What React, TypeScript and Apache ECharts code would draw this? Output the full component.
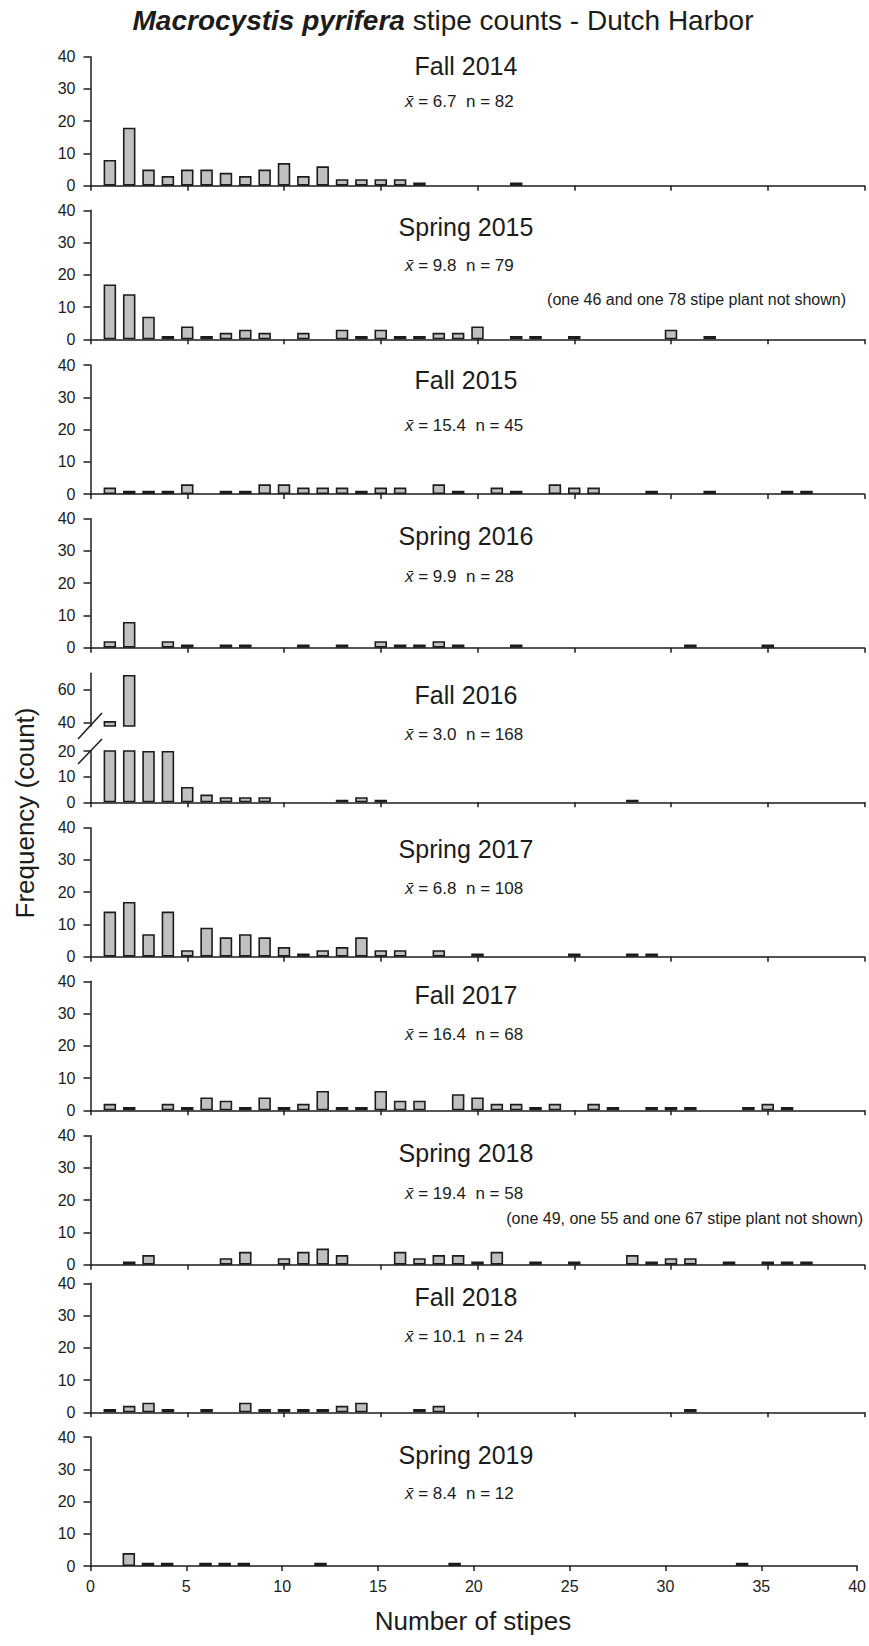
import React, { useEffect, useRef } from "react";
import * as echarts from "echarts";

// Frequency of plants by stipe count; entry i holds the plants with i + 1 stipes.
const fall2014 = [8, 18, 5, 3, 5, 5, 4, 3, 5, 7, 3, 6, 2, 2, 2, 2, 1, 0, 0, 0, 0, 1];
const spring2015 = [17, 14, 7, 1, 4, 1, 2, 3, 2, 0, 2, 0, 3, 1, 3, 1, 1, 2, 2, 4, 0, 1, 1, 0, 1, 0, 0, 0, 0, 3, 0, 1];
const fall2015 = [2, 1, 1, 1, 3, 0, 1, 1, 3, 3, 2, 2, 2, 1, 2, 2, 0, 3, 1, 0, 2, 1, 0, 3, 2, 2, 0, 0, 1, 0, 0, 1, 0, 0, 0, 1, 1];
const spring2016 = [2, 8, 0, 2, 1, 0, 1, 1, 0, 0, 1, 0, 1, 0, 2, 1, 1, 2, 1, 0, 0, 1, 0, 0, 0, 0, 0, 0, 0, 0, 1, 0, 0, 0, 1];
const fall2016 = [41, 69, 20, 20, 6, 3, 2, 2, 2, 0, 0, 0, 1, 2, 1, 0, 0, 0, 0, 0, 0, 0, 0, 0, 0, 0, 0, 1];
const spring2017 = [14, 17, 7, 14, 2, 9, 6, 7, 6, 3, 1, 2, 3, 6, 2, 2, 0, 2, 0, 1, 0, 0, 0, 0, 1, 0, 0, 1, 1];
const fall2017 = [2, 1, 0, 2, 1, 4, 3, 1, 4, 1, 2, 6, 1, 1, 6, 3, 3, 0, 5, 4, 2, 2, 1, 2, 0, 2, 1, 0, 1, 1, 1, 0, 0, 1, 2, 1];
const spring2018 = [0, 1, 3, 0, 0, 0, 2, 4, 0, 2, 4, 5, 3, 0, 0, 4, 2, 3, 3, 1, 4, 0, 1, 0, 1, 0, 0, 3, 1, 2, 2, 0, 1, 0, 1, 1, 1];
const fall2018 = [1, 2, 3, 1, 0, 1, 0, 3, 1, 1, 1, 1, 2, 3, 0, 0, 1, 2, 0, 0, 0, 0, 0, 0, 0, 0, 0, 0, 0, 0, 1];
const spring2019 = [0, 4, 1, 1, 0, 1, 1, 1, 0, 0, 0, 1, 0, 0, 0, 0, 0, 0, 1, 0, 0, 0, 0, 0, 0, 0, 0, 0, 0, 0, 0, 0, 0, 1];

const seasonNames = [
  "Fall 2014", "Spring 2015", "Fall 2015", "Spring 2016", "Fall 2016",
  "Spring 2017", "Fall 2017", "Spring 2018", "Fall 2018", "Spring 2019",
];
const seasonCounts = [
  fall2014, spring2015, fall2015, spring2016, fall2016,
  spring2017, fall2017, spring2018, fall2018, spring2019,
];
const meanStipes = ["6.7", "9.8", "15.4", "9.9", "3.0", "6.8", "16.4", "19.4", "10.1", "8.4"];
const sampleSizes = [82, 79, 45, 28, 168, 108, 68, 58, 24, 12];
const notShownNotes: (string | null)[] = [
  null,
  "(one 46 and one 78 stipe plant not shown)",
  null, null, null, null, null,
  "(one 49, one 55 and one 67 stipe plant not shown)",
  null, null,
];

const yTicks = [0, 10, 20, 30, 40];
const xTicks = [0, 5, 10, 15, 20, 25, 30, 35, 40];
const brokenLowerTicks = [0, 10, 20];
const brokenUpperTicks = [40, 60];

// Page layout (pixels)
const FONT = "'Liberation Sans', Arial, Helvetica, sans-serif";
const PLOT_LEFT = 90.5;
const PLOT_WIDTH = 774;
const PANEL_H = 129;
const BROKEN_PANEL = 4;
const zeroLine = [185.7, 339.3, 494, 647.7, 802.3, 956.7, 1110.3, 1264.7, 1412.3, 1566];
const titleY = [66, 227, 380, 536, 695, 849, 995, 1153, 1297, 1455];
const statY = [101, 265, 425, 576, 734, 888, 1034, 1193, 1336, 1493];
const noteY = [0, 299, 0, 0, 0, 0, 0, 1218, 0, 0];
const noteRight = [0, 846, 0, 0, 0, 0, 0, 863, 0, 0];

const INK = "#1c1c1c";
const BAR_FILL = "#c0c0c0";
const TICK_FONT = 16;

function barPairs(counts: number[]) {
  const out: [number, number][] = [];
  counts.forEach((c, i) => {
    if (c > 0) out.push([i + 1, c]);
  });
  return out;
}

function buildOption() {
  const grids: any[] = [];
  const xAxes: any[] = [];
  const yAxes: any[] = [];
  const series: any[] = [];
  const graphics: any[] = [];

  const lineStyle = { color: INK, width: 1.5 };

  const addPanel = (
    top: number,
    height: number,
    yAxis: any,
    counts: number[],
    showX: boolean,
    showXLabels: boolean
  ) => {
    const idx = grids.length;
    grids.push({ left: PLOT_LEFT, top, width: PLOT_WIDTH, height, containLabel: false });
    xAxes.push({
      type: "value",
      gridIndex: idx,
      min: 0,
      max: 40,
      interval: 5,
      show: showX,
      axisLine: { show: true, onZero: false, lineStyle },
      axisTick: { show: true, length: 5, inside: false, lineStyle },
      axisLabel: {
        show: showXLabels,
        customValues: xTicks,
        margin: 12,
        fontSize: TICK_FONT,
        color: INK,
        fontFamily: FONT,
      },
      splitLine: { show: false },
    });
    yAxes.push({
      type: "value",
      gridIndex: idx,
      axisLine: { show: true, lineStyle },
      splitLine: { show: false },
      ...yAxis,
      axisTick: { show: true, length: 7, lineStyle, ...(yAxis.axisTick || {}) },
      axisLabel: {
        margin: 15,
        fontSize: TICK_FONT,
        color: INK,
        fontFamily: FONT,
        ...(yAxis.axisLabel || {}),
      },
    });
    series.push({
      type: "bar",
      xAxisIndex: idx,
      yAxisIndex: idx,
      data: barPairs(counts),
      barWidth: 12.5,
      clip: true,
      silent: true,
      itemStyle: { color: BAR_FILL, borderColor: INK, borderWidth: 1.6 },
    });
  };

  seasonCounts.forEach((counts, i) => {
    const last = i === seasonCounts.length - 1;
    if (i === BROKEN_PANEL) {
      // Broken y-axis: 0–20 below the break, 38–70 above it.
      const lowerTop = 751;
      addPanel(
        lowerTop,
        zeroLine[i] - lowerTop,
        {
          min: 0,
          max: 20,
          interval: 10,
          axisLabel: { customValues: brokenLowerTicks },
          axisTick: { customValues: brokenLowerTicks },
        },
        counts,
        true,
        false
      );
      addPanel(
        673.3,
        52.7,
        {
          min: 38,
          max: 70,
          axisLabel: { customValues: brokenUpperTicks },
          axisTick: { customValues: brokenUpperTicks },
        },
        counts,
        false,
        false
      );
      graphics.push(
        {
          type: "line",
          shape: { x1: 78, y1: 739, x2: 102, y2: 713 },
          style: { stroke: INK, lineWidth: 1.5 },
        },
        {
          type: "line",
          shape: { x1: 78, y1: 764, x2: 102, y2: 739 },
          style: { stroke: INK, lineWidth: 1.5 },
        }
      );
    } else {
      addPanel(
        zeroLine[i] - PANEL_H,
        PANEL_H,
        {
          min: 0,
          max: 40,
          interval: 10,
          axisLabel: { customValues: yTicks },
          axisTick: { customValues: yTicks },
        },
        counts,
        true,
        last
      );
    }

    graphics.push({
      type: "text",
      x: 466,
      y: titleY[i],
      style: {
        text: seasonNames[i],
        font: `25px ${FONT}`,
        fill: INK,
        align: "center",
        verticalAlign: "middle",
      },
    });
    graphics.push({
      type: "text",
      x: 405,
      y: statY[i],
      style: {
        text: `{i|x\u0304} = ${meanStipes[i]}  n = ${sampleSizes[i]}`,
        font: `17px ${FONT}`,
        fill: INK,
        align: "left",
        verticalAlign: "middle",
        rich: {
          i: { fontStyle: "italic", fontSize: 17, fontFamily: FONT, fill: INK },
        },
      },
    });
    const note = notShownNotes[i];
    if (note) {
      graphics.push({
        type: "text",
        x: noteRight[i],
        y: noteY[i],
        style: {
          text: note,
          font: `16px ${FONT}`,
          fill: INK,
          align: "right",
          verticalAlign: "middle",
        },
      });
    }
  });

  graphics.push(
    {
      type: "text",
      x: 443,
      y: 20,
      style: {
        text: "{b|Macrocystis pyrifera} stipe counts - Dutch Harbor",
        font: `28px ${FONT}`,
        fill: INK,
        align: "center",
        verticalAlign: "middle",
        rich: {
          b: { fontWeight: "bold", fontStyle: "italic", fontSize: 28, fontFamily: FONT, fill: INK },
        },
      },
    },
    {
      type: "text",
      x: 25,
      y: 813,
      rotation: Math.PI / 2,
      style: {
        text: "Frequency (count)",
        font: `26px ${FONT}`,
        fill: INK,
        align: "center",
        verticalAlign: "middle",
      },
    },
    {
      type: "text",
      x: 473,
      y: 1621,
      style: {
        text: "Number of stipes",
        font: `26px ${FONT}`,
        fill: INK,
        align: "center",
        verticalAlign: "middle",
      },
    }
  );

  return {
    animation: false,
    backgroundColor: "#ffffff",
    grid: grids,
    xAxis: xAxes,
    yAxis: yAxes,
    series,
    graphic: graphics,
  };
}

export default function App() {
  const ref = useRef<HTMLDivElement>(null);
  useEffect(() => {
    if (!ref.current) return;
    const chart = echarts.init(ref.current, null, { renderer: "svg" });
    chart.setOption(buildOption() as any);
    return () => chart.dispose();
  }, []);
  return (
    <div
      ref={ref}
      style={{ position: "absolute", left: 0, top: 0, width: 869, height: 1646, background: "#fff" }}
    />
  );
}
